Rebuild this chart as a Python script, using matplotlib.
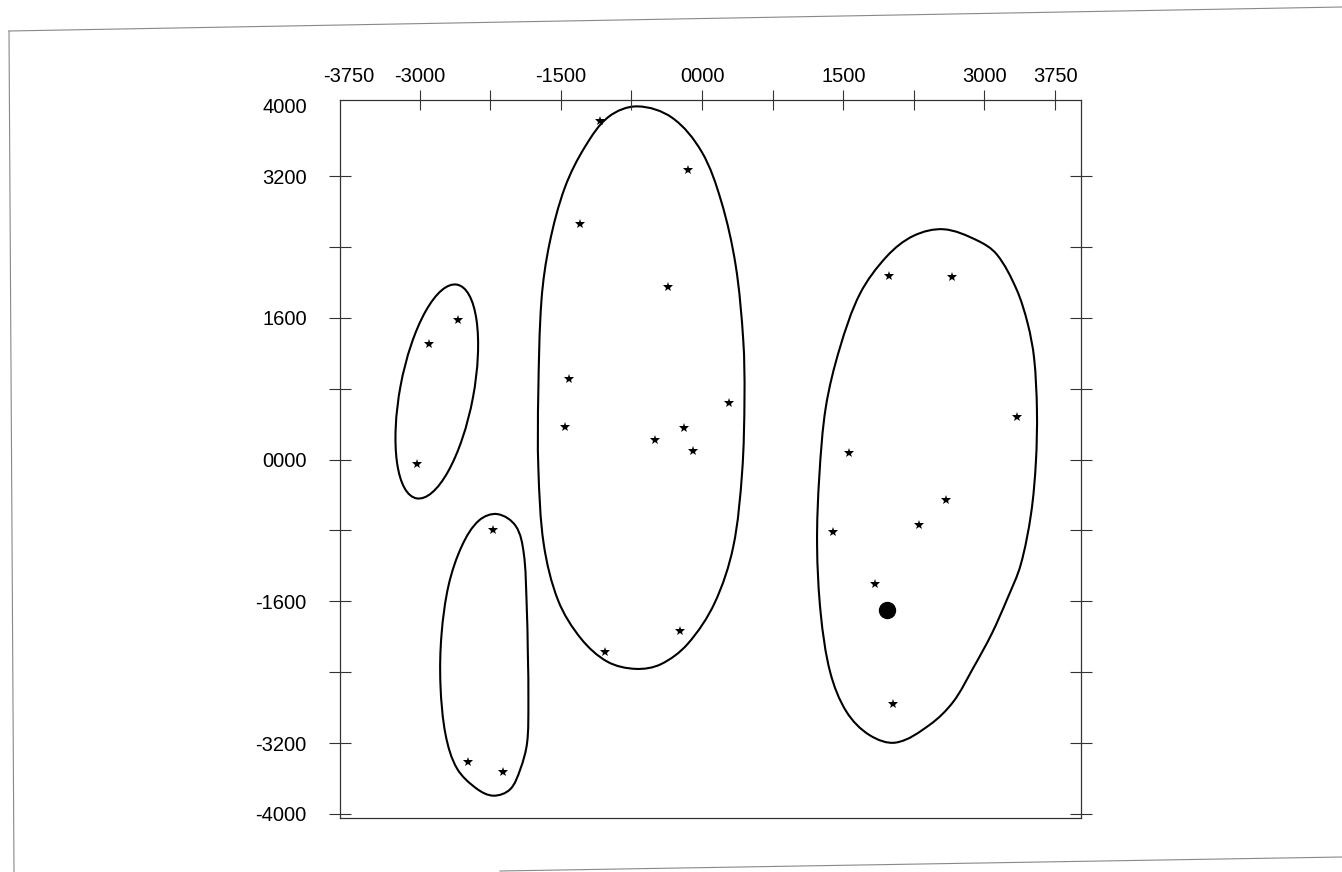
"""Scanned cluster plot: four groups of observations, each wrapped in a
smooth closed boundary, with one highlighted point in the right group."""

import matplotlib

matplotlib.use("Agg")
import matplotlib.pyplot as plt
import numpy as np
from matplotlib.lines import Line2D
from matplotlib.patches import Ellipse, PathPatch
from matplotlib.path import Path

plt.rcParams["font.family"] = ["Liberation Sans", "DejaVu Sans"]

STAR_X = [-2596, -2900, -3023,
          -2220, -2488, -2118,
          -1079, -146, -1300, -358, -1415, 288, -1451, -187, -496, -97, -230, -1034,
          1987, 2651, 3349, 1566, 2592, 2304, 1395, 1840, 2023]
STAR_Y = [1574, 1303, -50,
          -792, -3410, -3524,
          3818, 3264, 2663, 1952, 904, 634, 369, 354, 223, 93, -1930, -2171,
          2069, 2058, 479, 76, -462, -734, -820, -1408, -2757]

# The single highlighted observation (filled dot).
MARKED_X = [1968]
MARKED_Y = [-1694]

# Group A boundary is an ellipse: centre, full width / height, tilt (degrees).
GROUP_A_CENTER = (-2817, 768)
GROUP_A_SIZE = (780, 2450)
GROUP_A_ANGLE = -10

# Other group boundaries, traced clockwise from the top.
GROUP_B_X = [-2173, -1979, -1894, -1863, -1850, -1844, -1858, -1931, -2039, -2215,
             -2392, -2602, -2723, -2778, -2767, -2691, -2547, -2368]
GROUP_B_Y = [-616, -750, -1053, -1618, -2183, -2747, -3198, -3498, -3723, -3794,
             -3716, -3488, -3109, -2543, -1979, -1416, -967, -687]

GROUP_C_X = [-688, -319, -4, 203, 357, 438, 451, 426, 331, 133, -154, -439,
             -704, -1003, -1284, -1527, -1681, -1738, -1739, -1705, -1620, -1456, -1240, -990]
GROUP_C_Y = [3986, 3859, 3474, 2918, 2194, 1345, 708, -140, -987, -1621, -2083, -2311,
             -2363, -2283, -2023, -1594, -956, -106, 742, 1802, 2438, 3072, 3535, 3870]

GROUP_D_X = [2567, 2919, 3130, 3339, 3459, 3527, 3557, 3546, 3495, 3384, 3240, 3078, 2881, 2667,
             2417, 2062, 1780, 1535, 1362, 1261, 1222, 1246, 1315, 1462, 1678, 1965, 2248]
GROUP_D_Y = [2599, 2475, 2316, 1924, 1534, 1143, 558, -25, -608, -1190, -1577, -1964, -2351, -2736,
             -2995, -3194, -3111, -2848, -2404, -1741, -962, -183, 593, 1253, 1872, 2296, 2526]

X_TICKS = [-3750, -3000, -2250, -1500, -750, 0, 750, 1500, 2250, 3000, 3750]
X_TICK_LABELS = ["-3750", "-3000", "", "-1500", "", "0000", "", "1500", "", "3000", "3750"]
Y_TICKS = [4000, 3200, 2400, 1600, 800, 0, -800, -1600, -2400, -3200, -4000]
Y_TICK_LABELS = ["4000", "3200", "", "1600", "", "0000", "", "-1600", "", "-3200", "-4000"]


def closed_curve(xs, ys):
    """Smooth closed outline through the traced points, as cubic Beziers.

    Tangents follow the neighbouring points; handle lengths are a third of
    each segment, which keeps unevenly spaced traces free of kinks."""
    p = np.column_stack([xs, ys]).astype(float)
    n = len(p)
    tang = np.roll(p, -1, axis=0) - np.roll(p, 1, axis=0)
    tang /= np.linalg.norm(tang, axis=1)[:, None]
    verts = [p[0]]
    codes = [Path.MOVETO]
    for i in range(n):
        j = (i + 1) % n
        d = np.linalg.norm(p[j] - p[i])
        verts += [p[i] + tang[i] * d / 3, p[j] - tang[j] * d / 3, p[j]]
        codes += [Path.CURVE4] * 3
    return Path(verts, codes)


W, H = 1342, 872
fig = plt.figure(figsize=(W / 100, H / 100), dpi=100)
ax = fig.add_axes([340 / W, 1 - 818 / H, 741 / W, 718 / H])

ax.add_patch(Ellipse(GROUP_A_CENTER, *GROUP_A_SIZE, angle=GROUP_A_ANGLE,
                     fill=False, edgecolor="black", linewidth=1.5))
for gx, gy in [(GROUP_B_X, GROUP_B_Y), (GROUP_C_X, GROUP_C_Y), (GROUP_D_X, GROUP_D_Y)]:
    ax.add_patch(PathPatch(closed_curve(gx, gy), fill=False, edgecolor="black", linewidth=1.5))

ax.plot(STAR_X, STAR_Y, linestyle="none", marker="*", markersize=7,
        color="black", markeredgewidth=0)
ax.plot(MARKED_X, MARKED_Y, linestyle="none", marker="o", markersize=11.5, color="black")

ax.set_xlim(-3845, 4025)
ax.set_ylim(-4046, 4058)

for spine in ax.spines.values():
    spine.set_linewidth(0.9)
    spine.set_color("#333333")

ax.set_xticks(X_TICKS)
ax.set_xticklabels(X_TICK_LABELS)
ax.set_yticks(Y_TICKS)
ax.set_yticklabels(Y_TICK_LABELS)
ax.tick_params(axis="x", top=True, bottom=False, labeltop=True, labelbottom=False,
               direction="inout", length=14.4, width=0.8, pad=3, labelsize=14.5,
               color="#333333")
ax.tick_params(axis="y", left=True, right=True, labelleft=True, labelright=False,
               direction="inout", length=16, width=0.8, pad=16, labelsize=14.5,
               color="#333333")

# no tick marks at the corner positions
ax.xaxis.get_major_ticks()[0].tick2line.set_visible(False)
ax.yaxis.get_major_ticks()[0].tick1line.set_visible(False)
ax.yaxis.get_major_ticks()[0].tick2line.set_visible(False)

# edges of the scanned page
for (x0, y0), (x1, y1) in [((9, 31), (1342, 7)), ((9, 31), (14, 872)), ((500, 871), (1342, 857))]:
    fig.add_artist(Line2D([x0 / W, x1 / W], [1 - y0 / H, 1 - y1 / H],
                          transform=fig.transFigure, color="#888888", linewidth=0.8))

fig.savefig("out.png", dpi=100)
